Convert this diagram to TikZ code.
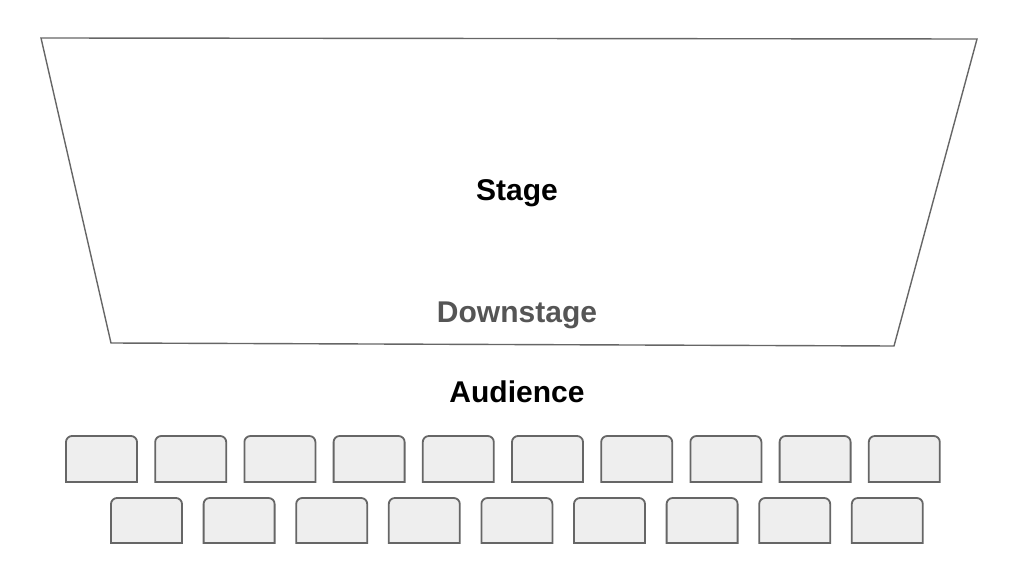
\documentclass[tikz,border=0pt]{standalone}
\usepackage{fontspec}
\setmainfont{Liberation Sans}
\usepackage{tikz}
\usetikzlibrary{calc}
\definecolor{edge}{HTML}{666666}
\definecolor{seatfill}{HTML}{EEEEEE}
\definecolor{downgray}{HTML}{555555}

\begin{document}
\begin{tikzpicture}[x=1pt,y=-1pt]
                % define styles
\tikzset{stageline/.style={draw=edge,
                       line width=1.4pt,
                       line join=miter,
                       },
         seat/.style={draw=edge,
                       fill=seatfill,
                       line width=1.8pt,
                       },
         title/.style={font=\fontsize{30}{30}\selectfont\bfseries,
                       inner sep=0,
                       anchor=center,
                       }
}

\useasboundingbox (0,0) rectangle (1024,575);

% stage corners
\coordinate (tl) at (41,38);
\coordinate (tr) at (977,39);
\coordinate (br) at (894,346);
\coordinate (bl) at (111,343);

% stage outline
\path[stageline] (tl) -- (tr) -- (br) -- (bl) -- cycle;

% labels
\node[title]                 (stage)     at (517,193) {Stage};
\node[title,text=downgray]   (downstage) at (517,315) {Downstage};
\node[title]                 (audience)  at (517,392) {Audience};

% seats, front row
\foreach \i in {0,...,9}
    \draw[seat] ({66+89.2*\i},482) [rounded corners=6pt] -- ({66+89.2*\i},436)
                -- ({137+89.2*\i},436) [sharp corners] -- ({137+89.2*\i},482) -- cycle;

% seats, back row
\foreach \i in {0,...,8}
    \draw[seat] ({111+92.6*\i},543) [rounded corners=6pt] -- ({111+92.6*\i},498)
                -- ({182+92.6*\i},498) [sharp corners] -- ({182+92.6*\i},543) -- cycle;

\end{tikzpicture}
\end{document}
